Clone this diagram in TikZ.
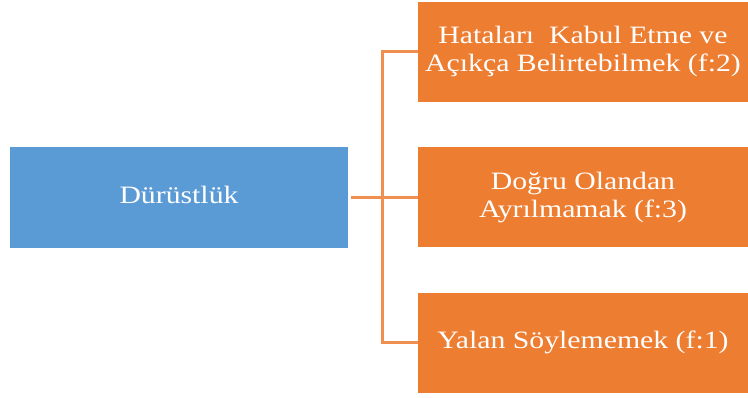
\documentclass[tikz,border=0pt]{standalone}
\usepackage{fontspec}
\setmainfont{Liberation Serif}
\usepackage{graphicx}
\usetikzlibrary{positioning}

\definecolor{boxblue}{HTML}{5B9BD5}
\definecolor{boxorange}{HTML}{ED7D31}

% text is set a little wider than high, as in the original
\newcommand{\boxtext}[1]{\scalebox{1.19}[1]{\begin{tabular}{@{}c@{}}#1\end{tabular}}}

\tikzset{
  box/.style={rectangle, inner sep=0pt, text=white,
    font=\fontsize{25}{28}\selectfont},
  mainbox/.style={box, fill=boxblue, minimum width=338pt, minimum height=101pt},
  leafbox/.style={box, fill=boxorange, minimum width=330pt, minimum height=100pt},
  link/.style={draw=boxorange!85!white, line width=3pt}
}

\begin{document}
\begin{tikzpicture}[x=1pt,y=1pt]
  \useasboundingbox (0,0) rectangle (748,398);

  % main box
  \node[mainbox] (durust) at (179,200.5) {\boxtext{Dürüstlük}};

  % leaves
  \node[leafbox] (hata) at (583,346) {\boxtext{Hataları~ Kabul Etme ve\\Açıkça Belirtebilmek (f:2)}};
  \node[leafbox] (dogru) at (583,200.5) {\boxtext{Doğru Olandan\\Ayrılmamak (f:3)}};
  \node[leafbox] (yalan) at (583,55) {\boxtext{Yalan Söylememek (f:1)}};

  % connectors
  \coordinate (bus) at (382,200.5);
  \draw[link] ([xshift=3pt]durust.east) -- (dogru.west);
  \draw[link] (hata.west) -| (bus) |- (yalan.west);

\end{tikzpicture}
\end{document}
